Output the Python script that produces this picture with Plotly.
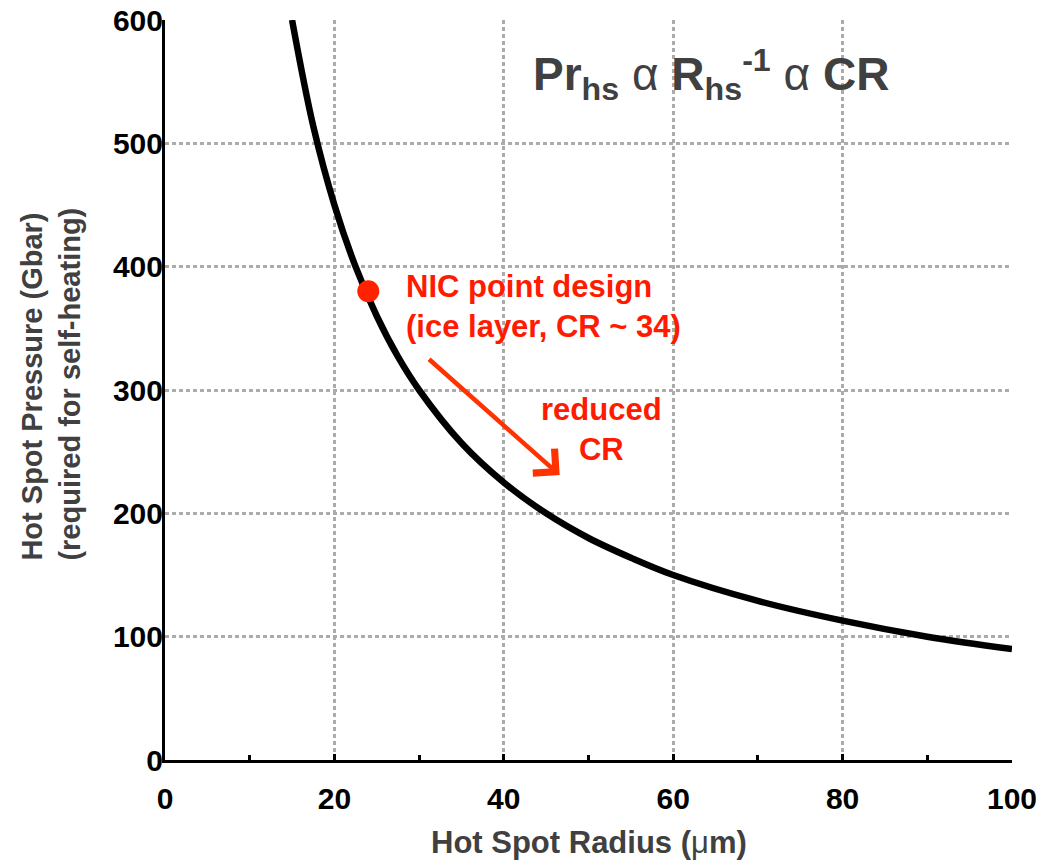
import plotly.graph_objects as go

# Curve
radius_um = [15, 17.5, 20, 22.5, 25, 27.5, 30, 35, 40, 45, 50, 55, 60, 70, 80, 90, 100]
pressure_gbar = [600, 514, 450, 400, 360, 327, 300, 257, 225, 200, 180, 164, 150, 129, 113, 100, 90]

# NIC point design
nic_radius = [24]
nic_pressure = [380]

# Arrow (reduced CR) start/end in data units
arrow_start = (31, 326)
arrow_end = (46.6, 231)

x_ticks = [0, 20, 40, 60, 80, 100]
y_ticks = [0, 100, 200, 300, 400, 500, 600]

RED = "#ff1a00"
GRAY_TXT = "#404040"
FONT = "Liberation Sans, Arial, sans-serif"

fig = go.Figure()
fig.add_trace(go.Scatter(
    x=radius_um, y=pressure_gbar, mode="lines",
    line=dict(color="black", width=6.5, shape="spline"),
    hoverinfo="skip", showlegend=False,
))
fig.add_trace(go.Scatter(
    x=nic_radius, y=nic_pressure, mode="markers",
    marker=dict(color="#ff2200", size=22, line=dict(width=0)),
    showlegend=False, cliponaxis=False,
))

fig.update_layout(
    width=1040, height=862,
    margin=dict(l=165, r=28, t=20, b=102, autoexpand=False),
    paper_bgcolor="white", plot_bgcolor="white",
    font=dict(family=FONT, color="black"),
    showlegend=False,
)
fig.update_xaxes(
    range=[0, 100], tickvals=x_ticks, ticktext=[f"<b>{v}</b>" for v in x_ticks],
    tickfont=dict(size=30, color="black", family=FONT),
    showline=True, linecolor="black", linewidth=3,
    showgrid=True, gridcolor="#ababab", gridwidth=2.5, griddash="4px,3px",
    ticks="inside", ticklen=6, tickwidth=3, tickcolor="black",
    ticklabelstandoff=10, ticklabeloverflow="allow", automargin=False,
    minor=dict(dtick=10, ticks="inside", ticklen=5, tickwidth=3, tickcolor="black", showgrid=False),
    zeroline=False, fixedrange=True,
)
fig.update_yaxes(
    range=[0, 600], tickvals=y_ticks, ticktext=[f"<b>{v}</b>" for v in y_ticks],
    tickfont=dict(size=30, color="black", family=FONT),
    showline=True, linecolor="black", linewidth=3,
    showgrid=True, gridcolor="#ababab", gridwidth=2.5, griddash="4px,3px",
    ticks="", ticklen=0, ticklabelstandoff=-7, ticklabeloverflow="allow", automargin=False,
    zeroline=False, fixedrange=True,
)

annotations = [
    dict(x=0.5, y=-0.112, xref="paper", yref="paper", xanchor="center", yanchor="middle",
         text="<b>Hot Spot Radius (</b>μ<b>m)</b>", showarrow=False,
         font=dict(size=31, color=GRAY_TXT, family=FONT)),
    dict(x=-0.134, y=0.508, xref="paper", yref="paper", xanchor="center", yanchor="middle",
         text="<b>Hot Spot Pressure (Gbar)<br>(required for self-heating)</b>", showarrow=False,
         textangle=-90, align="left", font=dict(size=29, color=GRAY_TXT, family=FONT)),
    dict(x=0.645, y=0.926, xref="paper", yref="paper", xanchor="center", yanchor="middle",
         text="<b>Pr<sub>hs</sub></b> α <b>R<sub>hs</sub><sup>-1</sup></b> α <b>CR</b>",
         showarrow=False, font=dict(size=46, color=GRAY_TXT, family=FONT)),
    dict(x=28.2, y=368, xref="x", yref="y", xanchor="left", yanchor="middle",
         text="<b>NIC point design<br>(ice layer, CR ~ 34)</b>", showarrow=False, align="left",
         font=dict(size=31, color=RED, family=FONT)),
    dict(x=51.5, y=268, xref="x", yref="y", xanchor="center", yanchor="middle",
         text="<b>reduced<br>CR</b>", showarrow=False, align="center",
         font=dict(size=31, color=RED, family=FONT)),
    dict(x=arrow_end[0], y=arrow_end[1], ax=arrow_start[0], ay=arrow_start[1],
         xref="x", yref="y", axref="x", ayref="y", text="", showarrow=True,
         arrowhead=4, arrowsize=1.4, arrowwidth=4.5, arrowcolor="#ff3300"),
]
fig.update_layout(annotations=annotations)

fig.write_html("out.html", config={"displayModeBar": False},
               post_script="document.body.style.margin='0';document.body.style.overflow='hidden';")
